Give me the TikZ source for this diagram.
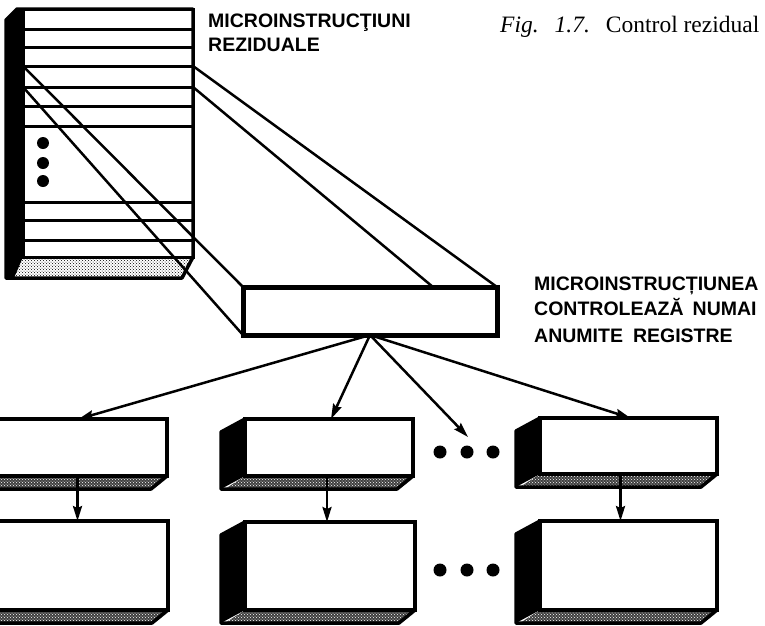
\documentclass[tikz,border=0pt]{standalone}
\usepackage{fontspec}
\setmainfont{Liberation Serif}
\newfontfamily\labfont{Liberation Sans}
\usetikzlibrary{arrows.meta,patterns}
\newcommand\regbox[5]{%
  \fill[black] (#2,#3) -- (#2-24,#3+13) -- (#2-24,#5+13) -- (#2,#5) -- cycle;
  \fill[black!75] (#2,#5) -- (#4,#5) -- (#4-16,#5+13) -- (#2-20,#5+13) -- cycle;
  \path[pattern=crosshatch dots, pattern color=white] (#2,#5) -- (#4,#5) -- (#4-16,#5+13) -- (#2-20,#5+13) -- cycle;
  \draw[boxline] (#2,#3) -- (#4,#3) -- (#4,#5) -- (#4-16,#5+13) -- (#2-24,#5+13) -- (#2-24,#3+13) -- cycle;
  \node[regface, minimum width=#4-#2, minimum height=#5-#3, anchor=north west] (#1) at (#2,#3) {};
}
\begin{document}
\begin{tikzpicture}[x=1pt,y=-1pt,
  boxline/.style={line width=3.5pt, line join=round},
  regface/.style={draw, line width=3.5pt, outer sep=0pt, inner sep=0pt},
  rowline/.style={line width=3pt},
  persp/.style={line width=2.5pt},
  arr/.style={line width=2.5pt, -{Stealth[length=15pt,width=9pt,inset=2pt]}},
  dot/.style={circle, fill=black, inner sep=0pt, minimum size=13pt},
  lab/.style={font=\labfont\bfseries\fontsize{19.5}{24}\selectfont, inner sep=0pt},
  capt/.style={font=\fontsize{23.5}{27}\selectfont, inner sep=0pt}]
\useasboundingbox (0,0) rectangle (765,625);
\clip (0,0) rectangle (765,625);

% stack of residual microinstructions
\fill[black] (6,20) -- (17,9) -- (23,9) -- (23,257) -- (14,278) -- (6,278) -- cycle;
\path[pattern=crosshatch dots] (23,257) -- (193,257) -- (182,278) -- (14,278) -- cycle;
\draw[boxline] (6,20) -- (17,9) -- (193,9) -- (193,257) -- (182,278) -- (6,278) -- cycle;
\node[draw, line width=3pt, outer sep=0pt, inner sep=0pt, minimum width=170pt, minimum height=248pt, anchor=north west] (stack) at (23,9) {};
\foreach \yy in {29,47,106,126,202,220,240}
  \draw[rowline] (23,\yy) -- (193,\yy);
\node[draw, line width=3pt, outer sep=0pt, inner sep=0pt, minimum width=170pt, minimum height=21pt, anchor=north west] (sel) at (23,66) {};
\node[dot, minimum size=12pt] (sd1) at (43,143) {};
\node[dot, minimum size=12pt] (sd2) at (43,163) {};
\node[dot, minimum size=12pt] (sd3) at (43,181) {};

% selected microinstruction bar
\node[draw, line width=5pt, outer sep=0pt, inner sep=0pt, fill=white, minimum width=254pt, minimum height=48pt, anchor=north west] (bar) at (243,287) {};
\coordinate (bartop) at (433,287);
\draw[persp] (sel.north west) -- (bar.north west);
\draw[persp] (sel.south west) -- (bar.south west);
\draw[persp] (sel.north east) -- (bar.north east);
\draw[persp] (sel.south east) -- (bartop);

% registers
\regbox{ra}{-2}{419}{167}{476}
\regbox{rb}{245}{419}{413}{476}
\regbox{rc}{540}{418}{717}{474}
\regbox{rd}{-2}{521}{168}{610}
\regbox{re}{245}{522}{415}{610}
\regbox{rf}{540}{521}{717}{610}

% dots between registers
\node[dot] (d1a) at (440,452) {};
\node[dot] (d1b) at (467,452) {};
\node[dot] (d1c) at (493,452) {};
\node[dot] (d2a) at (440,570) {};
\node[dot] (d2b) at (467,570) {};
\node[dot] (d2c) at (493,570) {};
\coordinate (dotsA) at (468,437);

% arrows
\draw[arr] (bar.south) -- ([xshift=-4pt]ra.north);
\draw[arr] (bar.south) -- ([xshift=2pt]rb.north);
\draw[arr] (bar.south) -- (dotsA);
\draw[arr] (bar.south) -- ([xshift=2pt]rc.north);
\draw[arr] ([xshift=-5pt]ra.south) -- ([xshift=-5pt]ra.south |- rd.north);
\draw[arr] ([xshift=-2pt]rb.south) -- ([xshift=-2pt]rb.south |- re.north);
\draw[arr] ([xshift=-8pt]rc.south) -- ([xshift=-8pt]rc.south |- rf.north);

% labels
\node[lab, anchor=base west] (l1) at (208,27) {MICROINSTRUCŢIUNI};
\node[lab, anchor=base west] (l2) at (208,51) {REZIDUALE};
\node[lab, anchor=base west] (l3) at (534,290) {MICROINSTRUCȚIUNEA};
\node[lab, anchor=base west] (l4) at (534,315) {CONTROLEAZĂ\hspace{9pt}NUMAI};
\node[lab, anchor=base west] (l5) at (534,342) {ANUMITE\hspace{10pt}REGISTRE};
\node[capt, anchor=base west] (cap) at (500,32) {\textit{Fig.\hspace{16pt}1.7.}\hspace{16pt}Control rezidual};
\end{tikzpicture}
\end{document}
